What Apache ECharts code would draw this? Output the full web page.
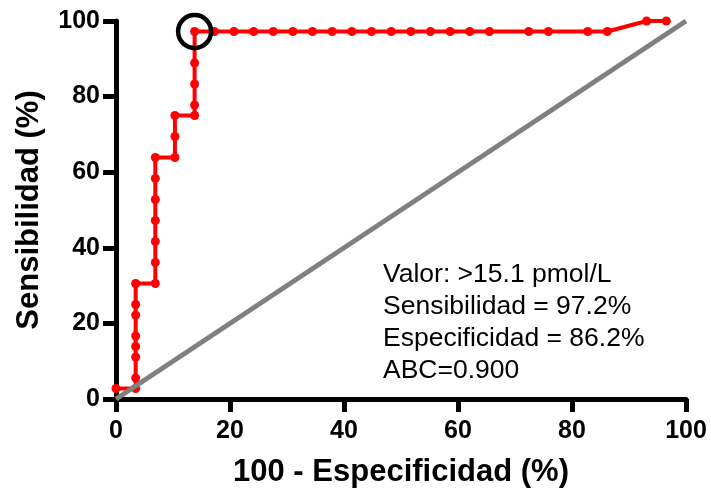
<!DOCTYPE html>
<html>
<head>
<meta charset="utf-8">
<script src="https://cdn.jsdelivr.net/npm/echarts@6/dist/echarts.min.js"></script>
<style>
  html, body { margin: 0; padding: 0; background: #fff; }
  #chart { width: 711px; height: 493px; }
</style>
</head>
<body>
<div id="chart"></div>
<script>
// curva ROC: 100 - especificidad (x) y sensibilidad (y), en %
var rocX = [0, 3.45, 3.45, 3.45, 3.45, 3.45, 3.45, 3.45, 3.45,
    6.90, 6.90, 6.90, 6.90, 6.90, 6.90, 6.90,
    10.34, 10.34, 10.34,
    13.79, 13.79, 13.79, 13.79, 13.79,
    17.24, 20.69, 24.14, 27.59, 31.03, 34.48, 37.93, 41.38, 44.83, 48.28,
    51.72, 55.17, 58.62, 62.07, 65.52, 72.41, 75.86, 82.76, 86.21,
    93.10, 96.55];
var rocY = [2.78, 2.78, 5.56, 11.11, 13.89, 16.67, 22.22, 25.00, 30.56,
    30.56, 36.11, 41.67, 47.22, 52.78, 58.33, 63.89,
    63.89, 69.44, 75.00,
    75.00, 77.78, 83.33, 88.89, 97.22,
    97.22, 97.22, 97.22, 97.22, 97.22, 97.22, 97.22, 97.22, 97.22, 97.22,
    97.22, 97.22, 97.22, 97.22, 97.22, 97.22, 97.22, 97.22, 97.22,
    100, 100];
// diagonal de referencia
var refLine = [[0, 0], [100, 100]];
// punto de corte
var corte = [13.79, 97.22];
var notas = ['Valor: >15.1 pmol/L', 'Sensibilidad = 97.2%', 'Especificidad = 86.2%', 'ABC=0.900'];

function getPairs(xs, ys) {
    var arr = [];
    for (var i = 0; i < xs.length; i++) {
        arr.push([xs[i], ys[i]]);
    }
    return arr;
}

var font = 'Liberation Sans, Arial, sans-serif';
var axisCommon = {
    type: 'value',
    min: 0,
    max: 100,
    interval: 20,
    nameLocation: 'middle',
    nameTextStyle: { fontFamily: font, fontWeight: 'bold', fontSize: 31, color: '#000' },
    axisLine: { show: true, lineStyle: { color: '#000', width: 5 } },
    axisTick: { show: true, length: 13, lineStyle: { color: '#000', width: 5 } },
    axisLabel: { fontFamily: font, fontWeight: 'bold', fontSize: 25, color: '#000' },
    splitLine: { show: false }
};

var option = {
    animation: false,
    backgroundColor: '#fff',
    grid: { left: 116, right: 25, top: 21, bottom: 93 },
    xAxis: Object.assign({}, axisCommon, {
        name: '100 - Especificidad (%)',
        nameGap: 58,
        axisLabel: Object.assign({}, axisCommon.axisLabel, { margin: 20 })
    }),
    yAxis: Object.assign({}, axisCommon, {
        name: 'Sensibilidad (%)',
        nameGap: 71,
        axisLabel: Object.assign({}, axisCommon.axisLabel, { margin: 16 })
    }),
    series: [
        {
            type: 'line',
            data: getPairs(rocX, rocY),
            symbol: 'circle',
            symbolSize: 9,
            lineStyle: { color: '#ff0000', width: 4 },
            itemStyle: { color: '#ff0000' },
            z: 2
        },
        {
            type: 'line',
            data: refLine,
            symbol: 'none',
            lineStyle: { color: '#808080', width: 5 },
            z: 3
        },
        {
            type: 'scatter',
            data: [corte],
            symbol: 'circle',
            symbolSize: 33,
            itemStyle: { color: 'rgba(0,0,0,0)', borderColor: '#000', borderWidth: 4.5, opacity: 1 },
            z: 4
        }
    ],
    graphic: [
        {
            type: 'text',
            left: 383,
            top: 259,
            style: {
                text: notas.join('\n'),
                fontFamily: font,
                fontSize: 26.5,
                lineHeight: 32,
                fill: '#000'
            }
        }
    ]
};

var charts = echarts.init(document.getElementById('chart'));
charts.setOption(option);
</script>
</body>
</html>
